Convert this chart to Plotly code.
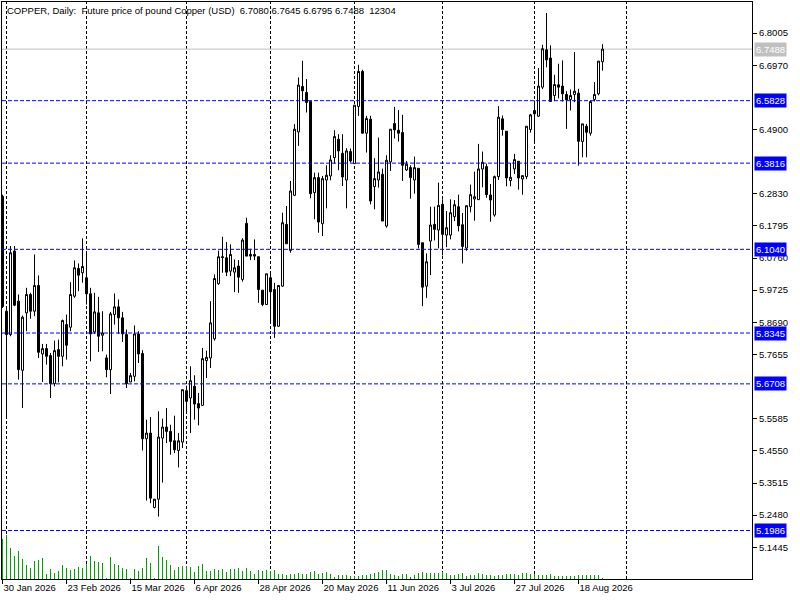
import plotly.graph_objects as go

# daily bars, oldest first (first bar is cut by the left edge)
opens = [6.2747, 5.9048, 5.8295, 6.0984, 5.9371, 5.7145, 5.8994, 5.9586, 5.9048, 5.9876,
         5.7672, 5.7844, 5.7618, 5.6715, 5.7811, 5.7596, 5.8618, 5.8532, 5.9532, 6.0424,
         6.0285, 6.0123, 5.9607, 5.8381, 5.8994, 5.8274, 5.7543, 5.7166, 5.8940, 5.9188,
         5.8833, 5.8295, 5.6768, 5.6951, 5.8317, 5.7683, 5.4941, 5.5123, 5.2726, 5.2994,
         5.4962, 5.5317, 5.5177, 5.4876, 5.4564, 5.4833, 5.6489, 5.6252, 5.6629, 5.6070,
         5.6016, 5.7457, 5.7543, 5.8156, 5.9930, 6.0801, 6.0769, 6.0338, 6.0306, 6.0500,
         6.0070, 6.1876, 6.0876, 6.0876, 6.0801, 5.9726, 5.9263, 6.0123, 5.9747, 5.8564,
         5.9855, 6.1844, 6.1005, 6.2779, 6.4822, 6.6285, 6.6091, 6.5801, 6.2866, 6.3350,
         6.1865, 6.3274, 6.3403, 6.3995, 6.4586, 6.4134, 6.3274, 6.4188, 6.3801, 6.5640,
         6.6769, 6.4780, 6.5231, 6.3060, 6.3274, 6.3457, 6.1790, 6.3855, 6.5092, 6.4876,
         6.4801, 6.3597, 6.3672, 6.3274, 6.3650, 6.1253, 5.9855, 6.1307, 6.1844, 6.1661,
         6.2489, 6.1500, 6.1500, 6.2091, 6.2414, 6.1833, 6.1080, 6.2414, 6.2661, 6.2639,
         6.3629, 6.3704, 6.2790, 6.2145, 6.3382, 6.5242, 6.4844, 6.3253, 6.3629, 6.3876,
         6.3306, 6.3382, 6.4898, 6.5511, 6.5328, 6.6263, 6.7468, 6.7199, 6.5994, 6.6339,
         6.6296, 6.6027, 6.5866, 6.6027, 6.6070, 6.4511, 6.5005, 6.4780, 6.5866, 6.6048,
         6.7080]
highs = [6.2800, 5.9200, 6.1145, 6.1145, 5.9586, 5.8908, 5.9801, 5.9640, 6.0876, 6.0199,
         5.7994, 5.7994, 5.7704, 5.8102, 5.8134, 5.8779, 5.8940, 5.9983, 6.0682, 6.0586,
         6.1392, 6.0930, 5.9801, 5.9640, 5.9510, 5.9048, 5.7650, 5.9026, 5.9618, 5.9424,
         5.9026, 5.8457, 5.7059, 5.8586, 5.8403, 5.7790, 5.5554, 5.5640, 5.3000, 5.5822,
         5.5586, 5.5930, 5.5392, 5.5683, 5.5124, 5.6521, 5.6650, 5.7274, 5.6984, 5.6414,
         5.7865, 5.7779, 5.9371, 6.0231, 6.1000, 6.1446, 6.1274, 6.1199, 6.0715, 6.0693,
         6.1400, 6.2059, 6.1059, 6.1360, 6.0801, 5.9726, 6.0252, 6.0306, 5.9962, 5.9876,
         6.2220, 6.2435, 6.3242, 6.5070, 6.6575, 6.7113, 6.6522, 6.5801, 6.3511, 6.3511,
         6.3403, 6.3747, 6.4070, 6.4876, 6.4747, 6.4747, 6.4296, 6.4285, 6.5683, 6.6984,
         6.6823, 6.5339, 6.5339, 6.3973, 6.4640, 6.3640, 6.4070, 6.4909, 6.5629, 6.5521,
         6.5371, 6.3887, 6.3747, 6.4027, 6.3650, 6.1253, 6.0908, 6.2414, 6.2414, 6.3188,
         6.2651, 6.2274, 6.2651, 6.2629, 6.2801, 6.2209, 6.2446, 6.3124, 6.3543, 6.4436,
         6.4188, 6.3800, 6.3145, 6.3414, 6.5651, 6.5349, 6.4844, 6.3823, 6.4113, 6.3876,
         6.3414, 6.5005, 6.5403, 6.5833, 6.6876, 6.7629, 6.8650, 6.7607, 6.6661, 6.7016,
         6.7124, 6.6134, 6.6188, 6.7392, 6.6210, 6.5081, 6.5081, 6.5801, 6.6425, 6.7102,
         6.7645]
lows = [5.9150, 5.5607, 5.8242, 5.9210, 5.6844, 5.5930, 5.8403, 5.8801, 5.8887, 5.7543,
        5.6768, 5.7328, 5.6252, 5.6629, 5.6758, 5.7274, 5.7489, 5.8403, 5.9478, 5.9693,
        5.9962, 5.9263, 5.7435, 5.8317, 5.7736, 5.7758, 5.6919, 5.6381, 5.8618, 5.8317,
        5.8059, 5.6575, 5.6768, 5.6790, 5.7381, 5.4564, 5.2951, 5.2865, 5.2700, 5.2435,
        5.3532, 5.4801, 5.4425, 5.4478, 5.4016, 5.4640, 5.5790, 5.5124, 5.5554, 5.5371,
        5.6000, 5.6898, 5.7220, 5.8100, 5.9900, 6.0285, 6.0177, 6.0177, 5.9661, 5.9640,
        6.0000, 6.0822, 6.0693, 6.0693, 5.9317, 5.9209, 5.9263, 5.8672, 5.8188, 5.8543,
        5.9833, 6.1220, 6.0930, 6.2758, 6.4371, 6.5822, 6.5446, 6.2683, 6.2005, 6.1575,
        6.1468, 6.2360, 6.3264, 6.3801, 6.3586, 6.3081, 6.2360, 6.3833, 6.3801, 6.5339,
        6.4780, 6.4156, 6.2489, 6.2328, 6.3027, 6.1951, 6.1737, 6.3565, 6.4607, 6.4511,
        6.3242, 6.3565, 6.2672, 6.2833, 6.1070, 5.9210, 5.9479, 6.0210, 6.1328, 6.1070,
        6.0844, 6.1113, 6.1360, 6.1950, 6.1618, 6.0586, 6.0994, 6.2231, 6.1962, 6.2629,
        6.3038, 6.2700, 6.1930, 6.2091, 6.3274, 6.4700, 6.3070, 6.3070, 6.3468, 6.2962,
        6.2801, 6.3300, 6.4800, 6.4489, 6.5300, 6.6200, 6.6900, 6.5801, 6.5812, 6.5900,
        6.5800, 6.4919, 6.5511, 6.5780, 6.3736, 6.4005, 6.4005, 6.4700, 6.5800, 6.6000,
        6.6795]
closes = [5.9199, 5.8295, 6.0930, 5.9242, 5.7166, 5.8854, 5.9586, 5.9048, 5.9876, 5.7726,
          5.7844, 5.7596, 5.6715, 5.7779, 5.7596, 5.8747, 5.7951, 5.9586, 6.0446, 6.0209,
          6.0488, 5.9607, 5.8317, 5.9026, 5.8242, 5.8349, 5.7166, 5.8962, 5.9188, 5.8833,
          5.8317, 5.6715, 5.6973, 5.8317, 5.7672, 5.4941, 5.5123, 5.3027, 5.2994, 5.4994,
          5.5317, 5.5177, 5.4854, 5.4586, 5.4876, 5.6521, 5.6145, 5.6811, 5.6059, 5.5930,
          5.7521, 5.7564, 5.8672, 6.0100, 6.0801, 6.0780, 6.0306, 6.0876, 6.0446, 6.0145,
          6.1338, 6.0822, 6.0822, 6.0822, 5.9747, 5.9263, 6.0252, 5.9672, 5.8564, 5.9876,
          6.1898, 6.1220, 6.2919, 6.4908, 6.6328, 6.6145, 6.5769, 6.2833, 6.3350, 6.1919,
          6.3317, 6.3425, 6.3919, 6.4672, 6.4210, 6.3371, 6.4210, 6.3887, 6.5683, 6.6769,
          6.4780, 6.5253, 6.2597, 6.3317, 6.3532, 6.1951, 6.3909, 6.4909, 6.4887, 6.4780,
          6.3747, 6.3780, 6.3350, 6.3672, 6.1199, 5.9823, 6.0640, 6.1823, 6.1683, 6.2457,
          6.1522, 6.1737, 6.2220, 6.2478, 6.1801, 6.1134, 6.2446, 6.2801, 6.2736, 6.3629,
          6.3844, 6.2801, 6.2629, 6.3382, 6.5296, 6.4898, 6.3339, 6.3360, 6.3930, 6.3339,
          6.3414, 6.5005, 6.5371, 6.5403, 6.6296, 6.7500, 6.7145, 6.5801, 6.6349, 6.6263,
          6.6048, 6.5855, 6.5994, 6.6134, 6.4521, 6.5081, 6.4812, 6.5801, 6.6027, 6.7102,
          6.7488]
# tick volume, thousands (last bar 12304)
volumes = [600, 656, 470, 350, 425, 305, 215, 170, 275, 290,
           320, 80, 155, 95, 125, 215, 170, 140, 155, 185,
           170, 230, 350, 275, 260, 245, 15, 335, 230, 215,
           170, 155, 15, 155, 125, 170, 320, 245, 15, 500,
           335, 290, 215, 140, 185, 200, 200, 185, 110, 200,
           230, 125, 125, 155, 140, 155, 110, 155, 155, 170,
           125, 170, 125, 80, 140, 125, 140, 125, 140, 80,
           80, 65, 80, 80, 95, 80, 80, 110, 125, 80,
           95, 110, 80, 35, 65, 65, 65, 50, 50, 50,
           65, 65, 80, 95, 110, 140, 140, 80, 65, 50,
           80, 80, 35, 65, 95, 110, 95, 95, 95, 95,
           110, 95, 65, 65, 80, 95, 50, 65, 65, 95,
           80, 65, 65, 50, 65, 65, 80, 80, 80, 65,
           95, 95, 80, 80, 65, 65, 65, 80, 50, 50,
           50, 50, 50, 50, 65, 65, 65, 65, 65, 65,
           12.3]

date_ticks = [0, 16, 32, 48, 64, 80, 96, 112, 128, 144]
date_labels = ["30 Jan 2026", "23 Feb 2026", "15 Mar 2026", "6 Apr 2026", "28 Apr 2026",
               "20 May 2026", "11 Jun 2026", "3 Jul 2026", "27 Jul 2026", "18 Aug 2026"]
grid_bars = [1, 21, 46, 67, 88, 110, 133, 156]
# price scale labels (the ones hidden behind the level boxes are left out)
price_ticks = [5.1445, 5.2480, 5.3515, 5.4550, 5.5585, 5.7655, 5.8690, 5.9725,
               6.0760, 6.1795, 6.2830, 6.4900, 6.6970, 6.8005]
levels = [6.5828, 6.3816, 6.1040, 5.8345, 5.6708, 5.1986]
last_price = 6.7488

idx = list(range(len(opens)))
FONT = "Tahoma, 'Liberation Sans', Arial, sans-serif"

fig = go.Figure()
fig.add_trace(go.Bar(x=idx, y=volumes, yaxis="y2", width=0.25,
                     marker=dict(color="#00a000", line=dict(width=0)),
                     hoverinfo="skip", showlegend=False))
fig.add_trace(go.Candlestick(
    x=idx, open=opens, high=highs, low=lows, close=closes,
    increasing=dict(line=dict(color="black", width=1), fillcolor="white"),
    decreasing=dict(line=dict(color="black", width=1), fillcolor="black"),
    whiskerwidth=0, showlegend=False))

shapes = []
for g in grid_bars:
    shapes.append(dict(type="line", xref="x", yref="paper", x0=g, x1=g, y0=0, y1=1,
                       layer="below", line=dict(color="black", width=1, dash="3px,2px")))
shapes.append(dict(type="line", xref="paper", yref="y", x0=0, x1=1, y0=last_price, y1=last_price,
                   layer="below", line=dict(color="#c0c0c0", width=1)))
for lv in levels:
    shapes.append(dict(type="line", xref="paper", yref="y", x0=0, x1=1, y0=lv, y1=lv,
                       line=dict(color="#0000ff", width=1, dash="4px,2px")))

annotations = [dict(xref="paper", yref="paper", x=0, y=1, xanchor="left", yanchor="top",
                    xshift=3, yshift=-1, showarrow=False,
                    text="COPPER, Daily:\u00a0 Future price of pound Copper (USD)\u00a0 "
                         "6.7080 6.7645 6.6795 6.7488\u00a0 12304",
                    font=dict(family=FONT, size=9.5, color="black"))]
for lv in levels:
    annotations.append(dict(xref="paper", yref="y", x=1, y=lv, xanchor="left", yanchor="middle",
                            xshift=2, showarrow=False, text="%.4f" % lv, bgcolor="#0000ff",
                            borderpad=1, font=dict(family=FONT, size=9.5, color="white")))
annotations.append(dict(xref="paper", yref="y", x=1, y=last_price, xanchor="left", yanchor="middle",
                        xshift=2, showarrow=False, text="%.4f" % last_price, bgcolor="#c0c0c0",
                        borderpad=1, font=dict(family=FONT, size=9.5, color="white")))

fig.update_layout(
    width=800, height=600,
    margin=dict(l=2, r=48, t=2, b=21),
    paper_bgcolor="white", plot_bgcolor="white",
    font=dict(family=FONT, size=9.5, color="black"),
    bargap=0, boxgap=0.5, boxgroupgap=0,
    xaxis=dict(range=[-0.125, 187.375], rangeslider=dict(visible=False), showgrid=False,
               zeroline=False, tickmode="array", tickvals=date_ticks, ticktext=date_labels,
               ticks="outside", ticklen=4, tickcolor="black", ticklabelposition="outside right",
               showline=True, linecolor="black", linewidth=1, mirror=True),
    yaxis=dict(range=[5.0424, 6.9005], side="right", showgrid=False, zeroline=False,
               tickmode="array", tickvals=price_ticks, tickformat=".4f",
               ticks="outside", ticklen=4, tickcolor="black",
               showline=True, linecolor="black", linewidth=1, mirror=True),
    yaxis2=dict(overlaying="y", range=[0, 8640], visible=False),
    shapes=shapes, annotations=annotations, hovermode=False,
)

# drop the page's default 8px body margin so the chart sits at the window corner
fig.write_html("out.html", config={"displayModeBar": False},
               post_script="document.body.style.margin='0';")
